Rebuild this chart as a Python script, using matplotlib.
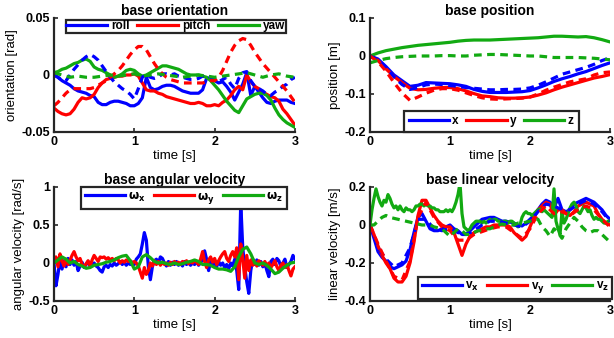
import numpy as np
import matplotlib
matplotlib.use("Agg")
import matplotlib.pyplot as plt

plt.rcParams['font.family'] = ['Liberation Sans', 'DejaVu Sans']
plt.rcParams['font.weight'] = 'bold'
plt.rcParams['mathtext.fontset'] = 'dejavusans'
plt.rcParams['mathtext.default'] = 'bf'

BLUE = '#0000ff'
RED = '#ff0000'
GREEN = '#12aa12'
DARK = '#262626'

# time grids (s)
t40 = np.arange(121) * 0.025
t20 = np.arange(61) * 0.05
t10 = np.arange(31) * 0.1

# ---- base orientation [rad], 0.05 s samples ----
roll = [0.000, -0.002, -0.005, -0.007, -0.009, -0.012, -0.014, -0.015, -0.016, -0.018,
        -0.019, -0.024, -0.026, -0.026, -0.024, -0.023, -0.023, -0.024, -0.025, -0.027,
        -0.027, -0.025, -0.020, -0.002, -0.011, -0.013, -0.012, -0.010, -0.009, -0.009,
        -0.010, -0.012, -0.014, -0.015, -0.016, -0.016, -0.016, -0.013, -0.003, -0.003,
        -0.005, -0.007, -0.006, -0.010, -0.015, -0.022, -0.015, -0.008, 0.002, -0.018,
        -0.010, -0.015, -0.020, -0.024, -0.025, -0.023, -0.022, -0.022, -0.022, -0.024,
        -0.025]
pitch = [-0.029, -0.032, -0.034, -0.035, -0.034, -0.030, -0.024, -0.020, -0.021, -0.020,
         -0.017, -0.011, -0.007, -0.004, -0.003, -0.002, -0.001, -0.001, 0.000, 0.000,
         0.001, -0.001, -0.007, -0.013, -0.014, -0.014, -0.016, -0.017, -0.019, -0.020,
         -0.021, -0.022, -0.023, -0.024, -0.025, -0.025, -0.024, -0.025, -0.027, -0.027,
         -0.026, -0.027, -0.024, -0.022, -0.018, -0.013, -0.010, -0.013, 0.000, -0.006,
         -0.010, -0.012, -0.015, -0.017, -0.019, -0.020, -0.023, -0.030, -0.034, -0.039,
         -0.044]
yaw = [0.002, 0.003, 0.005, 0.006, 0.008, 0.010, 0.011, 0.013, 0.014, 0.012,
       0.007, 0.005, 0.004, 0.002, 0.000, -0.002, -0.001, 0.001, 0.004, 0.005,
       0.004, 0.001, -0.001, 0.000, 0.002, 0.004, 0.006, 0.008, 0.008, 0.007,
       0.006, 0.005, 0.003, 0.001, 0.000, 0.000, 0.000, -0.001, -0.002, -0.005,
       -0.009, -0.013, -0.018, -0.023, -0.027, -0.031, -0.033, -0.027, -0.021, -0.019,
       -0.017, -0.016, -0.016, -0.018, -0.022, -0.029, -0.035, -0.039, -0.042, -0.044,
       -0.046]
roll_ref = [0.000, -0.002, -0.005, -0.005, 0.000, 0.005, 0.009, 0.013, 0.016, 0.018,
            0.016, 0.013, 0.008, 0.003, -0.002, -0.006, -0.009, -0.012, -0.014, -0.017,
            -0.021, -0.012, -0.002, 0.001, -0.002, -0.003, -0.002, 0.001, 0.001, 0.000,
            0.001, -0.001, -0.002, -0.003, -0.004, -0.004, -0.003, -0.001, 0.000, -0.002,
            -0.004, -0.006, -0.004, -0.002, -0.008, -0.012, -0.003, 0.002, 0.003, -0.005,
            -0.010, -0.012, -0.014, -0.017, -0.018, -0.015, -0.013, -0.010, -0.008, -0.004,
            -0.002]
pitch_ref = [-0.027, -0.024, -0.020, -0.016, -0.013, -0.012, -0.012, -0.012, -0.012, -0.012,
             -0.011, -0.009, -0.007, -0.005, -0.002, 0.001, 0.004, 0.008, 0.013, 0.018,
             0.022, 0.025, 0.025, 0.022, 0.016, 0.010, 0.005, 0.001, -0.002, -0.004,
             -0.005, -0.006, -0.007, -0.007, -0.007, -0.007, -0.007, -0.007, -0.006, -0.005,
             -0.005, -0.002, 0.004, 0.012, 0.020, 0.026, 0.030, 0.032, 0.031, 0.026,
             0.020, 0.015, 0.010, 0.006, 0.002, -0.002, -0.006, -0.010, -0.014, -0.019,
             -0.024]
# 0.1 s samples
yaw_ref = [0.002, 0.000, -0.002, -0.001, -0.002, -0.002, -0.001, 0.000, -0.001, 0.000,
           0.001, -0.001, 0.000, 0.001, 0.000, -0.001, -0.002, -0.001, 0.000, -0.001,
           -0.002, -0.001, 0.000, 0.001, 0.002, 0.000, -0.002, 0.000, 0.001, -0.001,
           -0.002]

# ---- base position [m], 0.1 s samples ----
pos_x = [0.000, -0.008, -0.028, -0.050, -0.065, -0.080, -0.077, -0.070, -0.071, -0.072,
         -0.073, -0.076, -0.080, -0.088, -0.093, -0.096, -0.096, -0.096, -0.095, -0.094,
         -0.091, -0.084, -0.076, -0.067, -0.060, -0.054, -0.047, -0.041, -0.033, -0.025,
         -0.018]
pos_y = [0.000, -0.012, -0.034, -0.054, -0.070, -0.085, -0.089, -0.088, -0.085, -0.083,
         -0.083, -0.086, -0.092, -0.099, -0.105, -0.107, -0.110, -0.111, -0.111, -0.110,
         -0.108, -0.103, -0.097, -0.089, -0.082, -0.076, -0.070, -0.064, -0.058, -0.054,
         -0.049]
pos_z = [0.000, 0.008, 0.014, 0.018, 0.022, 0.025, 0.028, 0.030, 0.032, 0.034,
         0.036, 0.039, 0.041, 0.042, 0.042, 0.042, 0.043, 0.044, 0.045, 0.046,
         0.047, 0.048, 0.050, 0.052, 0.052, 0.051, 0.050, 0.051, 0.048, 0.043,
         0.037]
pos_x_ref = [0.000, -0.010, -0.030, -0.055, -0.075, -0.088, -0.083, -0.076, -0.074, -0.075,
             -0.078, -0.080, -0.083, -0.085, -0.087, -0.089, -0.089, -0.088, -0.088, -0.087,
             -0.084, -0.077, -0.068, -0.058, -0.048, -0.042, -0.036, -0.030, -0.022, -0.012,
             -0.005]
pos_y_ref = [0.000, -0.015, -0.040, -0.070, -0.097, -0.117, -0.108, -0.098, -0.090, -0.086,
             -0.086, -0.090, -0.097, -0.104, -0.110, -0.113, -0.114, -0.113, -0.112, -0.111,
             -0.108, -0.100, -0.090, -0.082, -0.075, -0.068, -0.064, -0.060, -0.050, -0.044,
             -0.042]
pos_z_ref = [-0.018, -0.012, -0.007, -0.004, -0.002, -0.001, 0.000, 0.000, 0.000, 0.001,
             0.001, 0.000, 0.000, 0.002, 0.003, 0.004, 0.004, 0.003, 0.002, 0.001,
             0.000, 0.000, -0.002, -0.004, -0.004, -0.004, -0.004, -0.005, -0.006, -0.008,
             -0.010]

# ---- base angular velocity [rad/s] ----
wx = [0.00, -0.30, -0.15, 0.05, -0.08, 0.03, -0.05, 0.06, -0.02, 0.04,
      -0.03, 0.02, -0.10, -0.04, 0.01, -0.06, -0.02, 0.02, -0.05, -0.03,
      0.00, -0.04, -0.06, -0.10, -0.12, -0.05, -0.03, -0.06, -0.02, -0.04,
      0.00, -0.03, -0.01, 0.02, -0.02, 0.01, -0.03, 0.00, -0.02, 0.01,
      -0.02, 0.05, 0.08, 0.12, 0.25, 0.40, 0.30, -0.05, -0.22, -0.05,
      0.03, 0.05, 0.00, 0.08, 0.06, 0.00, -0.04, 0.02, -0.03, 0.01,
      -0.02, 0.02, -0.03, 0.00, -0.04, 0.02, -0.02, 0.01, -0.03, 0.00,
      -0.02, 0.02, -0.03, 0.00, 0.05, 0.16, 0.05, -0.10, 0.02, -0.04,
      0.03, -0.05, 0.02, -0.03, 0.00, -0.06, -0.02, -0.08, 0.00, -0.04,
      0.05, -0.10, -0.35, 0.80, 0.20, -0.05, -0.25, -0.40, -0.10, 0.05,
      -0.02, 0.04, -0.03, 0.02, -0.05, 0.00, -0.10, -0.18, 0.02, 0.05,
      -0.02, 0.06, 0.03, -0.05, 0.00, 0.05, -0.06, -0.02, 0.02, 0.10,
      0.05]
wy = [0.02, 0.08, -0.05, 0.12, 0.03, -0.04, 0.05, -0.02, 0.04, 0.10,
      0.15, 0.08, 0.03, 0.06, -0.02, -0.05, -0.01, 0.03, -0.04, 0.04,
      0.10, 0.06, 0.02, 0.08, 0.07, 0.08, 0.05, 0.07, 0.04, 0.06,
      0.03, 0.06, 0.04, 0.00, 0.03, 0.01, 0.04, 0.02, 0.03, 0.00,
      0.02, 0.00, -0.04, -0.12, -0.20, -0.06, -0.15, -0.10, 0.00, -0.04,
      0.03, -0.02, 0.02, -0.03, 0.01, -0.02, 0.00, -0.03, 0.01, -0.02,
      0.02, -0.01, 0.01, -0.02, 0.02, 0.00, 0.03, -0.01, 0.02, 0.00,
      0.03, 0.01, -0.02, 0.05, 0.15, 0.02, -0.06, 0.04, 0.08, 0.01,
      0.06, -0.02, 0.03, 0.08, 0.12, 0.15, 0.06, 0.02, 0.10, 0.15,
      0.08, 0.20, -0.22, 0.25, 0.05, -0.20, 0.10, -0.10, 0.04, -0.03,
      0.02, -0.04, 0.03, 0.00, -0.03, 0.02, -0.04, 0.00, -0.06, -0.02,
      0.03, -0.05, -0.10, -0.03, 0.00, -0.06, -0.02, -0.10, -0.17, -0.08,
      -0.05]
# 0.05 s samples
wz = [0.00, 0.04, 0.08, 0.05, 0.00, 0.02, -0.02, -0.04, -0.07, -0.06,
      -0.03, -0.02, -0.01, 0.01, 0.02, 0.04, 0.07, 0.09, 0.10, 0.03,
      -0.08, -0.05, 0.08, 0.11, 0.07, 0.02, 0.00, 0.01, -0.01, -0.02,
      0.00, -0.02, -0.01, 0.01, 0.02, 0.04, 0.02, -0.02, -0.02, -0.03,
      -0.06, -0.08, -0.08, -0.09, -0.11, -0.05, 0.08, 0.18, 0.21, 0.12,
      0.00, -0.02, 0.00, -0.03, -0.08, -0.14, -0.12, -0.07, -0.03, 0.00,
      0.01]

# ---- base linear velocity [m/s] ----
vx = [0.00, -0.07, -0.14, -0.17, -0.19, -0.22, -0.23, -0.22, -0.21, -0.19,
      -0.13, -0.04, 0.04, 0.06, 0.02, -0.02, -0.03, -0.03, -0.02, -0.01,
      0.00, -0.02, -0.03, -0.05, -0.05, -0.03, -0.01, 0.01, 0.03, 0.035,
      0.04, 0.04, 0.03, 0.02, 0.02, 0.015, 0.01, 0.00, -0.005, 0.01,
      0.03, 0.05, 0.08, 0.11, 0.13, 0.12, 0.09, 0.14, 0.08, 0.07,
      0.08, 0.11, 0.12, 0.13, 0.14, 0.13, 0.12, 0.10, 0.08, 0.05,
      0.03]
vy = [0.00, -0.05, -0.11, -0.16, -0.20, -0.23, -0.28, -0.30, -0.30, -0.27,
      -0.20, -0.09, 0.05, 0.13, 0.13, 0.09, 0.05, 0.02, 0.00, -0.01,
      -0.01, -0.04, -0.10, -0.16, -0.10, -0.06, -0.04, -0.03, -0.02, -0.01,
      -0.01, 0.00, 0.00, 0.00, 0.00, -0.01, -0.04, -0.06, -0.08, -0.06,
      -0.01, 0.04, 0.08, 0.10, 0.12, 0.11, 0.05, 0.08, 0.08, 0.06,
      0.05, 0.07, 0.10, 0.11, 0.12, 0.11, 0.10, 0.06, 0.03, 0.01,
      0.00]
# 0.025 s samples
vz = [0.00, 0.08, 0.14, 0.19, 0.15, 0.12, 0.10, 0.13, 0.12, 0.16,
      0.14, 0.11, 0.09, 0.10, 0.08, 0.10, 0.08, 0.07, 0.09, 0.08,
      0.08, 0.07, 0.08, 0.10, 0.10, 0.11, 0.11, 0.10, 0.11, 0.10,
      0.10, 0.09, 0.09, 0.08, 0.08, 0.07, 0.07, 0.07, 0.08, 0.07,
      0.08, 0.07, 0.09, 0.12, 0.16, 0.22, 0.06, -0.01, -0.02, -0.03,
      -0.02, 0.00, 0.01, 0.02, 0.02, 0.02, 0.01, 0.02, 0.01, 0.02,
      0.03, 0.02, 0.03, 0.03, 0.02, 0.02, 0.01, 0.02, 0.02, 0.01,
      0.02, 0.02, 0.01, 0.00, -0.01, 0.00, 0.04, 0.06, 0.07, 0.06,
      0.06, 0.05, 0.06, 0.07, 0.08, 0.085, 0.07, 0.08, 0.07, 0.06,
      0.05, 0.04, 0.19, 0.02, -0.02, -0.05, 0.07, 0.01, 0.03, 0.06,
      0.09, 0.11, 0.12, 0.10, 0.07, 0.06, 0.08, 0.10, 0.09, 0.07,
      0.08, 0.05, 0.03, 0.04, 0.03, 0.03, 0.02, 0.01, 0.01, 0.02,
      0.02]
# 0.1 s samples
vx_ref = [0.00, -0.12, -0.18, -0.22, -0.20, -0.12, 0.03, 0.03, -0.02, -0.03,
          -0.02, -0.04, -0.05, -0.03, 0.00, 0.02, 0.02, 0.01, 0.00, -0.01,
          0.02, 0.07, 0.11, 0.10, 0.08, 0.08, 0.11, 0.13, 0.11, 0.07,
          0.02]
vy_ref = [0.00, -0.10, -0.19, -0.27, -0.29, -0.19, 0.04, 0.12, 0.04, -0.01,
          -0.03, -0.08, -0.08, -0.05, -0.035, -0.02, -0.01, -0.01, -0.04, -0.07,
          -0.02, 0.06, 0.10, 0.06, 0.07, 0.05, 0.08, 0.10, 0.08, 0.03,
          -0.01]
# 0.05 s samples
vz_ref = [0.00, 0.00, 0.02, 0.04, 0.05, 0.04, 0.035, 0.03, 0.025, 0.02,
          0.015, 0.01, 0.005, 0.00, 0.00, 0.00, -0.01, -0.015, -0.02, -0.04,
          -0.06, -0.04, -0.02, -0.03, -0.05, -0.05, -0.04, -0.03, -0.03, -0.02,
          -0.02, -0.01, 0.00, 0.005, 0.00, 0.00, 0.00, 0.01, 0.01, 0.015,
          0.02, 0.03, 0.03, -0.01, -0.03, -0.06, -0.02, -0.04, -0.07, -0.02,
          0.01, 0.04, 0.02, -0.01, -0.03, -0.04, -0.03, -0.03, -0.05, -0.07,
          -0.09]

LW = 2.3
DASH = (2.4, 1.7)


def style(ax, title, ylabel, ylim, yticks, yticklabels):
    ax.set_xlim(0, 3)
    ax.set_ylim(*ylim)
    ax.set_xticks([0, 1, 2, 3])
    ax.set_yticks(yticks)
    ax.set_yticklabels(yticklabels)
    ax.set_title(title, fontsize=10, fontweight='bold', pad=2)
    ax.set_xlabel('time [s]', fontsize=9.5, labelpad=1)
    ax.set_ylabel(ylabel, fontsize=9.5, labelpad=2)
    for s in ['top', 'right']:
        ax.spines[s].set_visible(False)
    for s in ['left', 'bottom']:
        ax.spines[s].set_linewidth(1.6)
        ax.spines[s].set_color(DARK)
    ax.tick_params(direction='in', length=3, width=1.2, color=DARK,
                   labelsize=9, pad=3)


def legend(ax, labels, loc, anchor, pad, hl=3.4):
    leg = ax.legend(labels, loc=loc, bbox_to_anchor=anchor, ncol=3,
                    fontsize=8.5, handlelength=hl, handletextpad=0.3,
                    columnspacing=0.65, borderpad=pad, borderaxespad=0,
                    fancybox=False, framealpha=1, edgecolor=DARK)
    leg.get_frame().set_linewidth(1.6)
    return leg


fig = plt.figure(figsize=(6.14, 3.38), dpi=100)
ax1 = fig.add_axes([0.0879, 0.6095, 0.3925, 0.3373])
ax2 = fig.add_axes([0.6026, 0.6095, 0.3909, 0.3373])
ax3 = fig.add_axes([0.0879, 0.1095, 0.3925, 0.3373])
ax4 = fig.add_axes([0.6026, 0.1095, 0.3909, 0.3373])

# --- base orientation ---
ax1.plot(t20, roll, color=BLUE, lw=LW)
ax1.plot(t20, pitch, color=RED, lw=LW)
ax1.plot(t20, yaw, color=GREEN, lw=LW)
ax1.plot(t20, roll_ref, color=BLUE, lw=LW, dashes=DASH)
ax1.plot(t20, pitch_ref, color=RED, lw=LW, dashes=DASH)
ax1.plot(t10, yaw_ref, color=GREEN, lw=LW, dashes=DASH)
style(ax1, 'base orientation', 'orientation [rad]', (-0.05, 0.05),
      [-0.05, 0, 0.05], ['-0.05', '0', '0.05'])
legend(ax1, ['roll', 'pitch', 'yaw'], 'upper center', (0.505, 0.985), 0.05, 3.5)

# --- base position ---
ax2.plot(t10, pos_x, color=BLUE, lw=LW)
ax2.plot(t10, pos_y, color=RED, lw=LW)
ax2.plot(t10, pos_z, color=GREEN, lw=LW)
ax2.plot(t10, pos_x_ref, color=BLUE, lw=LW, dashes=DASH)
ax2.plot(t10, pos_y_ref, color=RED, lw=LW, dashes=DASH)
ax2.plot(t10, pos_z_ref, color=GREEN, lw=LW, dashes=DASH)
style(ax2, 'base position', 'position [m]', (-0.2, 0.1),
      [-0.2, -0.1, 0, 0.1], ['-0.2', '-0.1', '0', '0.1'])
legend(ax2, ['x', 'y', 'z'], 'lower center', (0.505, 0.0), 0.4)

# --- base angular velocity ---
ax3.plot(t40, wx, color=BLUE, lw=LW)
ax3.plot(t40, wy, color=RED, lw=LW)
ax3.plot(t20, wz, color=GREEN, lw=LW)
style(ax3, 'base angular velocity', 'angular velocity [rad/s]', (-0.5, 1),
      [-0.5, 0, 0.5, 1], ['-0.5', '0', '0.5', '1'])
legend(ax3, [r'$\omega_x$', r'$\omega_y$', r'$\omega_z$'], 'upper right',
       (0.965, 1.0), 0.3)

# --- base linear velocity ---
ax4.plot(t20, vx, color=BLUE, lw=LW)
ax4.plot(t20, vy, color=RED, lw=LW)
ax4.plot(t40, vz, color=GREEN, lw=LW)
ax4.plot(t10, vx_ref, color=BLUE, lw=LW, dashes=DASH)
ax4.plot(t10, vy_ref, color=RED, lw=LW, dashes=DASH)
ax4.plot(t20, vz_ref, color=GREEN, lw=LW, dashes=DASH)
style(ax4, 'base linear velocity', 'linear velocity [m/s]', (-0.4, 0.2),
      [-0.4, -0.2, 0, 0.2], ['-0.4', '-0.2', '0', '0.2'])
legend(ax4, [r'v$_\mathbf{x}$', r'v$_\mathbf{y}$', r'v$_\mathbf{z}$'],
       'lower right', (1.01, 0.02), 0.3)

fig.savefig('out.png', dpi=100)
